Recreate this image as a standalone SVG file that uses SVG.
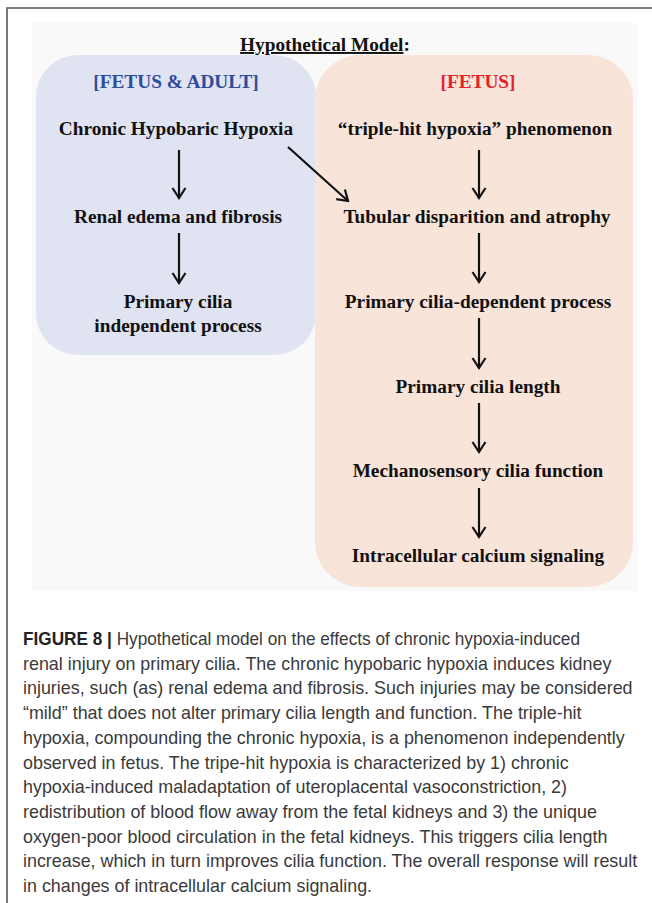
<svg xmlns="http://www.w3.org/2000/svg" width="652" height="903" viewBox="0 0 652 903">
<style>
.lbl{font-family:"Liberation Serif","Times New Roman",serif;font-weight:bold;font-size:19.3px;fill:#111;text-anchor:middle}
.hdr{font-family:"Liberation Serif","Times New Roman",serif;font-weight:bold;font-size:19.3px;text-anchor:middle}
.cap{font-family:"Liberation Sans",Arial,sans-serif;font-size:17.9px;fill:#3a3a3a}
.arr{stroke:#111;stroke-width:2.2;fill:none;marker-end:url(#ah)}
</style>
<defs>
<marker id="ah" markerUnits="userSpaceOnUse" viewBox="-12 -8 14 16" markerWidth="14" markerHeight="16" refX="0" refY="0" orient="auto">
<path d="M-10,-6.5 L0,0 L-10,6.5" fill="none" stroke="#111" stroke-width="2.2"/>
</marker>
</defs>
<g id="frame">
<path d="M7,903 V8 H652" fill="none" stroke="#555" stroke-width="1.6"/>
</g>
<g id="background">
<rect x="32" y="23" width="606" height="568" fill="#f9f9f9"/>
<text class="hdr" x="325" y="51" fill="#111"><tspan text-decoration="underline">Hypothetical Model</tspan>:</text>
</g>
<g id="panel-fetus-adult">
<rect x="36" y="55" width="280" height="300" rx="42" fill="#dfe3f2"/>
<text class="hdr" x="176" y="88" fill="#2e4c9c">[FETUS &amp; ADULT]</text>
</g>
<g id="panel-fetus">
<rect x="315" y="55" width="318" height="532" rx="45" fill="#f9e4da"/>
<text class="hdr" x="478" y="88" fill="#e3232b">[FETUS]</text>
</g>
<g id="n-chronic"><text class="lbl" x="176" y="135">Chronic Hypobaric Hypoxia</text></g>
<g id="n-renal"><text class="lbl" x="178" y="223">Renal edema and fibrosis</text></g>
<g id="n-independent"><text class="lbl" x="178" y="308">Primary cilia</text><text class="lbl" x="178" y="332">independent process</text></g>
<g id="n-triple"><text class="lbl" x="475" y="135">“triple-hit hypoxia” phenomenon</text></g>
<g id="n-tubular"><text class="lbl" x="477" y="223">Tubular disparition and atrophy</text></g>
<g id="n-dependent"><text class="lbl" x="478" y="308">Primary cilia-dependent process</text></g>
<g id="n-length"><text class="lbl" x="478" y="393">Primary cilia length</text></g>
<g id="n-mechano"><text class="lbl" x="478" y="477">Mechanosensory cilia function</text></g>
<g id="n-calcium"><text class="lbl" x="478" y="562">Intracellular calcium signaling</text></g>
<g id="connectors">
<line class="arr" x1="179" y1="150" x2="179" y2="198"/>
<line class="arr" x1="179" y1="233" x2="179" y2="283"/>
<line class="arr" x1="288" y1="147" x2="348" y2="201"/>
<line class="arr" x1="479" y1="150" x2="479" y2="198"/>
<line class="arr" x1="479" y1="233" x2="479" y2="282"/>
<line class="arr" x1="479" y1="318" x2="479" y2="368"/>
<line class="arr" x1="479" y1="403" x2="479" y2="452"/>
<line class="arr" x1="479" y1="488" x2="479" y2="537"/>
</g>
<g id="caption">
<text class="cap" x="23" y="645" textLength="557" lengthAdjust="spacingAndGlyphs"><tspan font-weight="bold" fill="#222">FIGURE 8 |</tspan> Hypothetical model on the effects of chronic hypoxia-induced</text>
<text class="cap" x="23" y="669.7">renal injury on primary cilia. The chronic hypobaric hypoxia induces kidney</text>
<text class="cap" x="23" y="694.4">injuries, such (as) renal edema and fibrosis. Such injuries may be considered</text>
<text class="cap" x="23" y="719.1">“mild” that does not alter primary cilia length and function. The triple-hit</text>
<text class="cap" x="23" y="743.8">hypoxia, compounding the chronic hypoxia, is a phenomenon independently</text>
<text class="cap" x="23" y="768.5">observed in fetus. The tripe-hit hypoxia is characterized by 1) chronic</text>
<text class="cap" x="23" y="793.2">hypoxia-induced maladaptation of uteroplacental vasoconstriction, 2)</text>
<text class="cap" x="23" y="817.9">redistribution of blood flow away from the fetal kidneys and 3) the unique</text>
<text class="cap" x="23" y="842.6">oxygen-poor blood circulation in the fetal kidneys. This triggers cilia length</text>
<text class="cap" x="23" y="867.3">increase, which in turn improves cilia function. The overall response will result</text>
<text class="cap" x="23" y="892">in changes of intracellular calcium signaling.</text>
</g>
</svg>
